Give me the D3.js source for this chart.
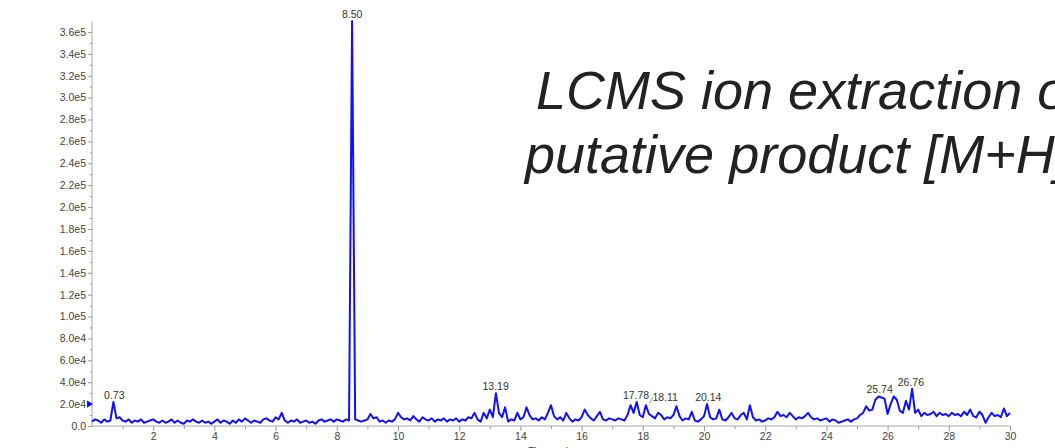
<!DOCTYPE html>
<html>
<head>
<meta charset="utf-8">
<script src="https://cdn.jsdelivr.net/npm/d3@7"></script>
<style>
  body { margin: 0; background: #fff; }
  svg { display: block; font-family: Arial, "Liberation Sans", sans-serif; }
</style>
</head>
<body>
<div id="chart"></div>
<script>
// extracted ion chromatogram, intensity in thousands of counts, one value per 0.1 min from 0 to 30
var startTime = 0;
var timeStep = 0.1;
var intensity = [
  4, 6, 5, 3, 6, 4, 5, 22, 7, 8,
  5, 4, 6, 3, 5, 4, 6, 3, 4, 5,
  6, 4, 3, 5, 3, 4, 6, 3, 5, 3,
  2, 5, 4, 6, 4, 3, 5, 3, 4, 2,
  4, 6, 3, 5, 4, 2, 5, 3, 6, 4,
  7, 5, 3, 5, 4, 3, 6, 7, 5, 4,
  8, 6, 12, 5, 3, 5, 4, 6, 3, 4,
  5, 3, 4, 2, 5, 6, 4, 5, 6, 4,
  6, 5, 4, 6, 5, 370, 6, 5, 4, 5,
  6, 11, 7, 8, 4, 5, 3, 5, 4, 6,
  12, 8, 6, 7, 5, 9, 6, 4, 8, 6,
  5, 7, 4, 6, 5, 7, 4, 6, 5, 7,
  4, 6, 5, 8, 7, 12, 6, 4, 12, 7,
  15, 8, 30, 12, 8, 17, 4, 6, 5, 12,
  6, 8, 17, 10, 6, 7, 5, 8, 6, 12,
  19, 9, 6, 8, 5, 12, 7, 4, 6, 5,
  8, 15, 10, 7, 5, 9, 13, 6, 5, 7,
  6, 5, 7, 6, 5, 10, 19, 12, 22, 10,
  8, 19, 11, 9, 7, 12, 10, 6, 8, 7,
  10, 18, 9, 5, 7, 6, 13, 5, 4, 6,
  9, 20, 8, 6, 7, 15, 6, 5, 8, 12,
  7, 6, 10, 12, 6, 19, 8, 5, 6, 4,
  5, 7, 6, 8, 13, 9, 10, 8, 12, 9,
  6, 8, 7, 9, 12, 8, 6, 7, 5, 6,
  7, 4, 6, 5, 3, 4, 5, 6, 4, 6,
  7, 10, 12, 18, 14, 15, 24, 27, 26, 25,
  11, 20, 27, 24, 14, 12, 23, 15, 34, 12,
  15, 9, 12, 10, 11, 13, 9, 12, 10, 11,
  9, 12, 10, 11, 9, 13, 10, 15, 9, 8,
  13, 10, 3, 8, 12, 9, 10, 8, 16, 9,
  12
];

// labelled peaks: retention time (min) and apex height (thousands)
var peakTimes = [0.73, 8.50, 13.19, 17.78, 18.11, 20.14, 25.74, 26.76];
var peakHeights = [22, 370, 30, 22, 19, 20, 27, 34];
var peakLabels = ['0.73', '8.50', '13.19', '17.78', '18.11', '20.14', '25.74', '26.76'];

var yTickValues = [0, 2e4, 4e4, 6e4, 8e4, 1e5, 1.2e5, 1.4e5, 1.6e5, 1.8e5, 2e5,
                   2.2e5, 2.4e5, 2.6e5, 2.8e5, 3e5, 3.2e5, 3.4e5, 3.6e5];
var yTickLabels = ['0.0', '2.0e4', '4.0e4', '6.0e4', '8.0e4', '1.0e5', '1.2e5', '1.4e5', '1.6e5', '1.8e5', '2.0e5',
                   '2.2e5', '2.4e5', '2.6e5', '2.8e5', '3.0e5', '3.2e5', '3.4e5', '3.6e5'];
var xTickValues = [2, 4, 6, 8, 10, 12, 14, 16, 18, 20, 22, 24, 26, 28, 30];

var titleLines = ['LCMS ion extraction of', 'putative product [M+H]+'];
var xTitle = 'Time, min';

var width = 1055, height = 448;

var svg = d3.select('#chart').append('svg')
    .attr('width', width)
    .attr('height', height);

var x = d3.scaleLinear().domain([0, 30]).range([92, 1010]);
var y = d3.scaleLinear().domain([0, 3.7e5]).range([426, 21]);

var points = intensity.map(function (v, i) {
    return { t: startTime + i * timeStep, v: v * 1000 };
});

// y axis
var yAxis = d3.axisLeft(y)
    .tickValues(yTickValues)
    .tickFormat(function (d, i) { return yTickLabels[i]; })
    .tickSize(4)
    .tickPadding(2);

var gy = svg.append('g')
    .attr('transform', 'translate(' + x(0) + ',0)')
    .call(yAxis);

var yMinor = d3.axisLeft(y)
    .tickValues(d3.range(1e4, 3.7e5, 2e4))
    .tickFormat('')
    .tickSize(2);
svg.append('g')
    .attr('transform', 'translate(' + x(0) + ',0)')
    .call(yMinor)
    .select('.domain').remove();

// x axis
var xAxis = d3.axisBottom(x)
    .tickValues(xTickValues)
    .tickSize(5)
    .tickPadding(2);

var gx = svg.append('g')
    .attr('transform', 'translate(0,' + y(0) + ')')
    .call(xAxis);

var xMinor = d3.axisBottom(x)
    .tickValues(d3.range(1, 30, 2))
    .tickFormat('')
    .tickSize(3);
svg.append('g')
    .attr('transform', 'translate(0,' + y(0) + ')')
    .call(xMinor)
    .select('.domain').remove();

svg.selectAll('.domain').attr('stroke', '#aaa');
svg.selectAll('.tick line').attr('stroke', '#999');
svg.selectAll('.tick text')
    .attr('fill', '#444')
    .style('font-size', '10.5px')
    .style('font-family', 'Arial, "Liberation Sans", sans-serif');
gy.selectAll('.domain').attr('d', 'M0,' + y(3.7e5) + 'V' + y(0));
gx.selectAll('.domain').attr('d', 'M' + x(0) + ',0H' + x(30));

svg.append('text')
    .attr('x', 551)
    .attr('y', 455)
    .attr('text-anchor', 'middle')
    .attr('fill', '#444')
    .style('font-size', '10.5px')
    .text(xTitle);

// trace
var line = d3.line()
    .x(function (d) { return x(d.t); })
    .y(function (d) { return y(d.v); });

svg.append('path')
    .datum(points)
    .attr('d', line)
    .attr('fill', 'none')
    .attr('stroke', '#1010ff')
    .attr('stroke-width', 2)
    .attr('stroke-linejoin', 'round');

// threshold marker on the y axis
svg.append('path')
    .attr('d', d3.symbol().type(d3.symbolTriangle).size(22))
    .attr('transform', 'translate(' + (x(0) - 3) + ',' + y(2e4) + ') rotate(90)')
    .attr('fill', '#1010ff');

// peak labels
var labelShift = { '18.11': [19, -1] };
svg.selectAll('.peak-label')
    .data(peakTimes)
    .enter().append('text')
    .attr('class', 'peak-label')
    .attr('x', function (d, i) {
        var s = labelShift[peakLabels[i]];
        return x(d) + (s ? s[0] : 0);
    })
    .attr('y', function (d, i) {
        var s = labelShift[peakLabels[i]];
        return y(peakHeights[i] * 1000) - 3 + (s ? s[1] : 0);
    })
    .attr('text-anchor', 'middle')
    .attr('fill', '#333')
    .style('font-size', '10.5px')
    .text(function (d, i) { return peakLabels[i]; });

// small leader for the shifted label
svg.append('line')
    .attr('x1', x(18.11) + 3)
    .attr('y1', y(19000) - 2)
    .attr('x2', x(18.11) + 7)
    .attr('y2', y(19000) - 8)
    .attr('stroke', '#777')
    .attr('stroke-width', 0.8);

// title
var title = svg.append('text')
    .attr('fill', '#222')
    .style('font-size', '54px')
    .style('font-style', 'italic');

title.selectAll('tspan')
    .data(titleLines)
    .enter().append('tspan')
    .attr('x', function (d, i) { return i === 0 ? 536 : 525; })
    .attr('y', function (d, i) { return 109 + i * 64; })
    .text(function (d) { return d; });
</script>
</body>
</html>
